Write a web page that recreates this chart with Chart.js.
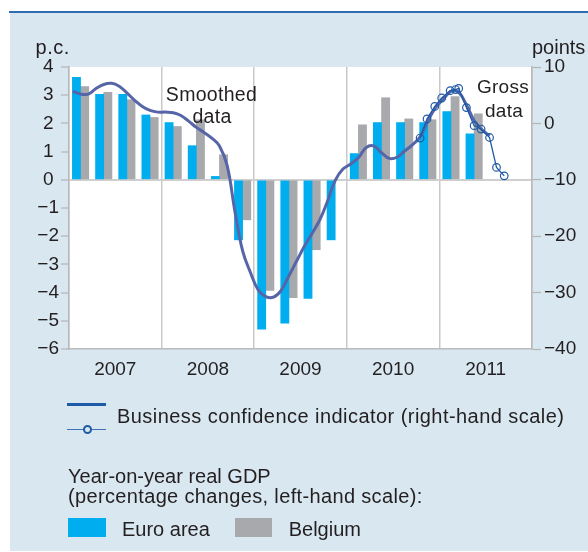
<!DOCTYPE html>
<html>
<head>
<meta charset="utf-8">
<script src="https://cdn.jsdelivr.net/npm/chart.js@4.4.1/dist/chart.umd.min.js"></script>
<style>
  html, body { margin: 0; padding: 0; background: #fff; }
  #wrap { position: relative; width: 588px; height: 552px; overflow: hidden; font-family: "Liberation Sans", Arial, sans-serif; color: #231f20; }
  #rule { position: absolute; left: 9px; top: 11px; width: 579px; height: 2px; background: #2f6cb3; }
  #panel { position: absolute; left: 10px; top: 13px; width: 578px; height: 538px; background: #d8e7f0; }
  #chart { position: absolute; left: 0; top: 0; }
  .t { position: absolute; white-space: nowrap; line-height: 1; }
  .sw { position: absolute; }
</style>
</head>
<body>
<div id="wrap">
  <div id="rule"></div>
  <div id="panel"></div>
  <canvas id="chart" width="588" height="552"></canvas>
  <div class="sw" style="left:67px;top:403px;width:39px;height:2.6px;background:#1f5aa6"></div>
  <div class="sw" style="left:67px;top:428.6px;width:39px;height:1.4px;background:#3f73b8"></div>
  <div class="sw" style="left:82.5px;top:424.8px;width:9px;height:9px;box-sizing:border-box;border:2px solid #1f5aa6;border-radius:50%;background:#d8e7f0"></div>
  <div class="sw" style="left:68px;top:518px;width:38px;height:19px;background:#00aeef"></div>
  <div class="sw" style="left:234.5px;top:518px;width:37.5px;height:19px;background:#a7a9ac"></div>
</div>
<script>
// quarterly real GDP, year-on-year % (2007Q1 .. 2011Q4)
var years = ['2007', '2008', '2009', '2010', '2011'];
var euroArea = [3.63, 3.03, 3.03, 2.30, 2.03, 1.21, 0.12, -2.13, -5.30, -5.08, -4.21, -2.13, 0.93, 2.03, 2.03, 2.03, 2.42, 1.63, null, null];
var belgium = [3.31, 3.10, 2.84, 2.21, 1.89, 2.13, 0.89, -1.42, -3.92, -4.18, -2.48, null, 1.95, 2.91, 2.16, 2.13, 2.95, 2.34, null, null];

// business confidence, smoothed, monthly from Jan 2007
var smoothed = [5.7, 5.2, 5.2, 6.2, 6.9, 7.1, 6.6, 5.4, 4.1, 3.0, 2.3, 2.0,
                2.0, 1.9, 1.4, 0.4, -0.7, -1.6, -2.6, -4.0, -7.5, -15.6, -22.6, -26.4,
                -29.5, -30.7, -30.8, -29.6, -27.0, -24.4, -21.8, -19.5, -17.1, -13.8, -10.1, -8.1,
                -7.2, -6.1, -4.3, -4.0, -5.2, -6.2, -6.0, -4.9, -3.8, -2.4, 0.4, 2.8,
                4.3, 5.7, 5.5, 3.3, 0.5, -1.1, -2.2];

// business confidence, gross data (position in months from Jan 2007)
var grossMonth = [45.5, 46.4, 47.4, 48.3, 49.4, 50.1, 50.5, 51.5, 52.5, 53.4, 54.5, 55.4, 56.4];
var gross = [-2.6, 0.8, 3.0, 4.5, 5.8, 6.0, 6.2, 2.8, -0.4, -1.0, -2.5, -7.8, -9.3];

var FONT = '"Liberation Sans", Arial, sans-serif';
var INK = '#231f20';

function minus(v) { return v < 0 ? '\u2212' + (-v) : String(v); }

function addText(txt, x, base, size, align, spacing) {
    var d = document.createElement('div');
    d.className = 't';
    d.textContent = txt;
    d.style.fontSize = size + 'px';
    d.style.top = (base - 0.8465 * size) + 'px';
    if (spacing) d.style.letterSpacing = spacing + 'px';
    if (align === 'center') {
        d.style.left = (x - 150) + 'px';
        d.style.width = '300px';
        d.style.textAlign = 'center';
    } else {
        d.style.left = x + 'px';
    }
    document.getElementById('wrap').appendChild(d);
}

var whiteArea = {
    id: 'whiteArea',
    beforeDraw: function (chart) {
        var a = chart.chartArea, ctx = chart.ctx;
        ctx.save();
        ctx.fillStyle = '#ffffff';
        ctx.fillRect(a.left, a.top, a.right - a.left, a.bottom - a.top);
        ctx.restore();
    }
};

new Chart(document.getElementById('chart').getContext('2d'), {
    type: 'bar',
    data: {
        datasets: [
            {
                type: 'line', label: 'Gross data', yAxisID: 'y1', order: 1,
                data: gross.map(function (v, i) { return { x: grossMonth[i], y: v }; }),
                borderColor: '#1f5aa6', borderWidth: 1.3, tension: 0,
                pointRadius: 3.8, pointBorderWidth: 1.2,
                pointBorderColor: '#1f5aa6', pointBackgroundColor: 'rgba(0,0,0,0)'
            },
            {
                type: 'line', label: 'Smoothed data', yAxisID: 'y1', order: 2,
                data: smoothed.map(function (v, i) { return { x: i + 0.5, y: v }; }),
                borderColor: '#5565a8', borderWidth: 3, tension: 0.4, pointRadius: 0
            },
            {
                label: 'Euro area', yAxisID: 'y', order: 3,
                data: euroArea.map(function (v, q) { return { x: q * 3 + 1.5, y: v }; }),
                backgroundColor: '#00aeef', barThickness: 8.2
            },
            {
                label: 'Belgium', yAxisID: 'y', order: 3,
                data: belgium.map(function (v, q) { return { x: q * 3 + 1.5, y: v }; }),
                backgroundColor: '#a7a9ac', barThickness: 8.2
            }
        ]
    },
    options: {
        responsive: false,
        animation: false,
        devicePixelRatio: 1,
        layout: { padding: { top: 67, left: 0, right: 0, bottom: 0 } },
        plugins: { legend: { display: false }, tooltip: { enabled: false } },
        scales: {
            x: {
                type: 'linear', min: 0, max: 60, offset: false,
                afterFit: function (s) { s.height = 203; },
                grid: {
                    offset: false,
                    color: function (c) { return c.tick && c.tick.value % 12 === 0 ? '#c9c9c9' : 'rgba(0,0,0,0)'; },
                    lineWidth: 1.5, drawTicks: false
                },
                border: { color: '#bcbcbc', width: 1.5 },
                ticks: {
                    stepSize: 6, autoSkip: false, maxRotation: 0, padding: 9,
                    color: INK, font: { family: FONT, size: 19 },
                    callback: function (v) { return v % 12 === 6 ? years[(v - 6) / 12] : ''; }
                }
            },
            y: {
                position: 'left', min: -6, max: 4,
                afterFit: function (s) { s.width = 69; },
                grid: {
                    color: function (c) { return c.tick && c.tick.value === 0 ? '#cfcfcf' : 'rgba(0,0,0,0)'; },
                    lineWidth: 2, tickColor: '#b4b4b4', tickLength: 8, tickWidth: 1.2
                },
                border: { color: '#b8b8b8', width: 1.5 },
                ticks: {
                    stepSize: 1, padding: 2, crossAlign: 'center',
                    color: INK, font: { family: FONT, size: 19 },
                    callback: minus
                }
            },
            y1: {
                position: 'right', min: -40, max: 10,
                afterFit: function (s) { s.width = 56; },
                grid: { drawOnChartArea: false, tickColor: '#b4b4b4', tickLength: 9, tickWidth: 1.2 },
                border: { color: '#b8b8b8', width: 1.5 },
                ticks: {
                    stepSize: 10, padding: 3,
                    color: INK, font: { family: FONT, size: 19 },
                    callback: minus
                }
            }
        }
    },
    plugins: [whiteArea]
});

addText('p.c.', 35.6, 53.5, 20, 'left', 0.5);
addText('points', 532, 53.5, 20, 'left');
addText('Smoothed', 211.5, 101.7, 19.5, 'center', 0.3);
addText('data', 212, 123.3, 19.5, 'center', 0.3);
addText('Gross', 503, 93.3, 19, 'center', 0.3);
addText('data', 504, 116.7, 19, 'center', 0.3);
addText('Business confidence indicator (right-hand scale)', 117, 423.3, 20, 'left', 0.45);
addText('Year-on-year real GDP', 68, 483, 20, 'left');
addText('(percentage changes, left-hand scale):', 68, 503, 20, 'left', 0.35);
addText('Euro area', 122, 536, 20, 'left');
addText('Belgium', 288.7, 536, 20, 'left');
</script>
</body>
</html>
